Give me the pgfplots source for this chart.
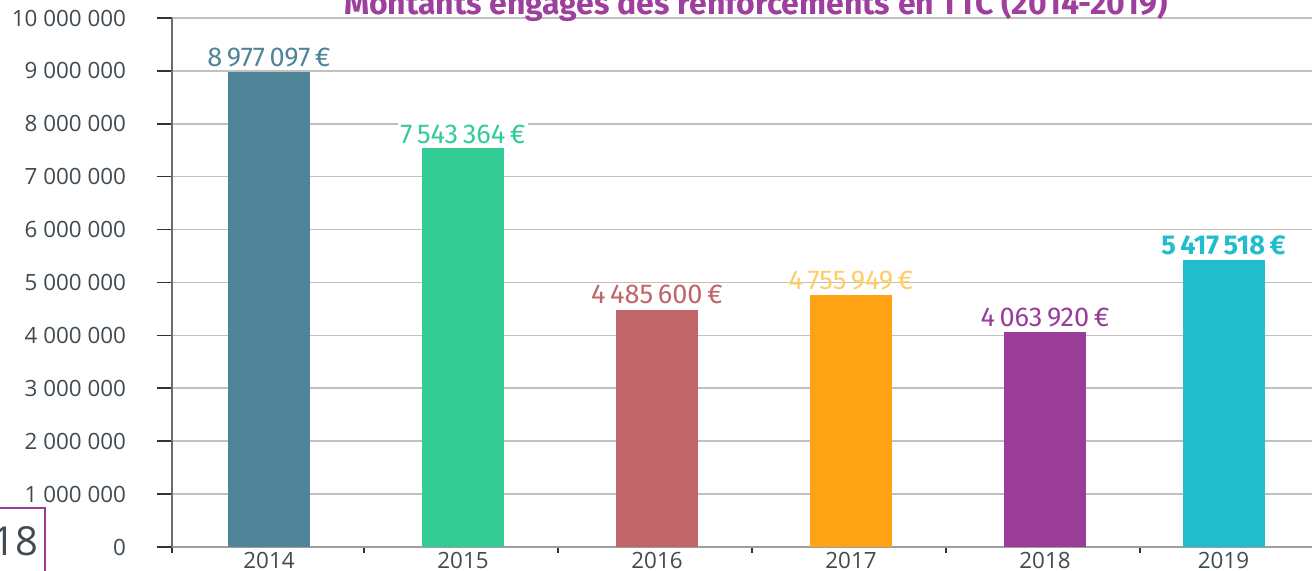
\documentclass[border=0pt]{standalone}
\usepackage{fontspec}
\setmainfont{Open Sans}
\newfontfamily\fira{Fira Sans}
\usepackage{pgfplots}
\pgfplotsset{compat=1.18}

\definecolor{c14}{HTML}{4F8499}
\definecolor{c15}{HTML}{33CC95}
\definecolor{c16}{HTML}{C0666A}
\definecolor{c17}{HTML}{FFA214}
\definecolor{c17lab}{HTML}{FFCC66}
\definecolor{c18}{HTML}{993D99}
\definecolor{c19}{HTML}{21BDCC}
\definecolor{titlepurple}{HTML}{9E3F9E}
\definecolor{tickgray}{HTML}{3F4A52}
\definecolor{gridgray}{HTML}{C0C0C0}

\pgfplotsset{
  barlab/.style={nodes near coords, point meta=explicit symbolic,
    every node near coord/.append style={font=\fira\fontsize{13.6}{14}\selectfont,
      anchor=base, inner sep=0pt, yshift=3pt, text=#1}},
}

\begin{document}
\begin{tikzpicture}
\begin{axis}[
  scale only axis, width=570pt, height=264.5pt,
  xmin=-0.5, xmax=5.376, ymin=0, ymax=10000000,
  axis x line*=bottom, axis y line*=left,
  x axis line style={gray!75, line width=0.8pt},
  y axis line style={gray!85!black, line width=1pt},
  ymajorgrids, grid style={gridgray, line width=0.8pt},
  tick align=outside,
  major tick length=7.5pt, minor tick length=3pt,
  ytick={0,1000000,2000000,3000000,4000000,5000000,6000000,7000000,8000000,9000000,10000000},
  yticklabels={0,1 000 000,2 000 000,3 000 000,4 000 000,5 000 000,6 000 000,7 000 000,8 000 000,9 000 000,10 000 000},
  scaled y ticks=false,
  ytick style={draw=black!80, line width=0.8pt},
  xtick={0,1,2,3,4,4.92},
  xticklabels={2014,2015,2016,2017,2018,2019},
  minor xtick={-0.5,0.49,1.49,2.49,3.49,4.49},
  major x tick style={draw=none},
  minor x tick style={draw=black!80, line width=0.8pt},
  tick label style={font=\fontsize{11.2}{12}\selectfont, text=tickgray},
  yticklabel style={xshift=-12pt},
  xticklabel style={yshift=8.5pt},
  every axis plot/.append style={ybar, bar width=41pt, bar shift=0pt, draw=none},
]
\addplot[fill=c14, barlab=c14] coordinates {(0,8977097) [8\,977\,097\,€]};
\addplot[fill=c15, barlab=c15, every node near coord/.append style={fill=white, inner sep=1pt, yshift=-1pt}] coordinates {(1,7543364) [7\,543\,364\,€]};
\addplot[fill=c16, barlab=c16] coordinates {(2,4485600) [4\,485\,600\,€]};
\addplot[fill=c17, barlab=c17lab] coordinates {(3,4755949) [4\,755\,949\,€]};
\addplot[fill=c18, barlab=c18] coordinates {(4,4063920) [4\,063\,920\,€]};
\addplot[fill=c19, barlab=c19, every node near coord/.append style={font=\fira\bfseries\fontsize{13.6}{14}\selectfont}] coordinates {(4.92,5417518) [5\,417\,518\,€]};
\end{axis}
\node[anchor=base, text=titlepurple, font=\fira\bfseries\fontsize{16}{17}\selectfont] at (292pt,266pt)
  {Montants engagés des renforcements en TTC (2014-2019)};
\draw[c18, line width=0.6pt] (-87pt,-13pt) rectangle (-63.5pt,19.5pt);
\node[text=tickgray, font=\fontsize{20}{20}\selectfont] at (-78.5pt,3pt) {18};
\pgfresetboundingbox
\path[use as bounding box] (-86pt,-12pt) rectangle (570pt,273.5pt);
\end{tikzpicture}
\end{document}
